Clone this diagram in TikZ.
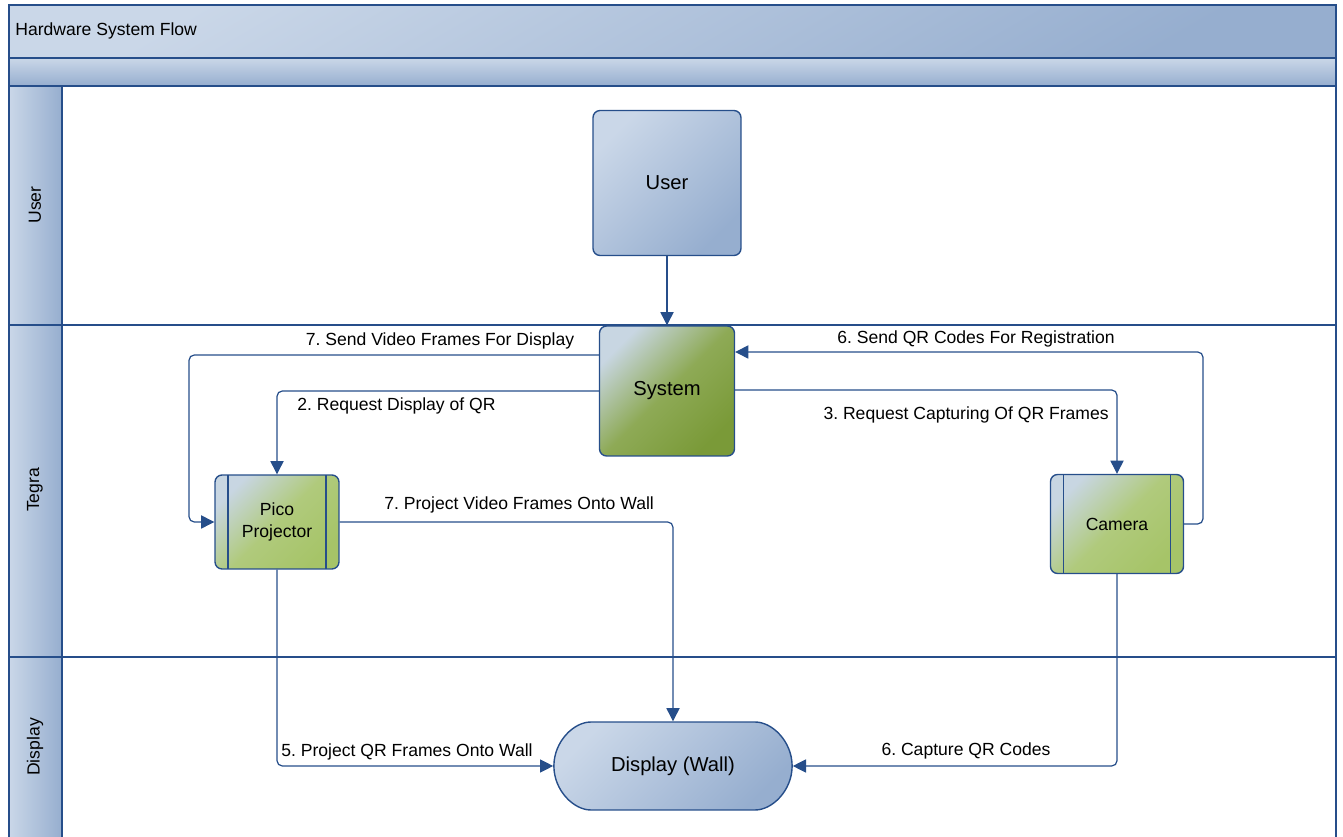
\documentclass[tikz,border=0pt]{standalone}
\usepackage{fontspec}
\setmainfont{Liberation Sans}
\usetikzlibrary{arrows.meta,shapes.misc}
\frenchspacing

\definecolor{flowblue}{RGB}{38,78,138}
\definecolor{hdrlight}{RGB}{202,215,232}
\definecolor{hdrdark}{RGB}{150,174,207}
\definecolor{grnlight}{RGB}{200,214,226}
\definecolor{grnmid}{RGB}{166,196,104}
\definecolor{grnmidb}{RGB}{176,202,124}
\definecolor{grnsys}{RGB}{142,170,86}
\definecolor{grndark}{RGB}{122,154,56}

\begin{document}
\begin{tikzpicture}[x=0.02cm, y=0.02cm,
                    lanehdr/.style = {draw = flowblue,
                                      line width = 1.1pt,
                                      left color = hdrlight,
                                      right color = hdrdark},
                    bluenode/.style = {shape = rectangle,
                                       rounded corners = 4pt,
                                       draw = flowblue,
                                       line width = 0.8pt,
                                       top color = hdrlight,
                                       bottom color = hdrdark,
                                       shading angle = 45,
                                       font = \fontsize{11.5}{13.5}\selectfont},
                    sysnode/.style = {bluenode,
                                      top color = grnlight,
                                      bottom color = grndark,
                                      middle color = grnsys,
                                      shading angle = 45},
                    procnode/.style = {bluenode,
                                       top color = grnlight,
                                       bottom color = grnmid,
                                       middle color = grnmidb,
                                       shading angle = 45,
                                       align = center,
                                       font = \fontsize{10}{12}\selectfont,
                                       path picture = {
                                         \draw[flowblue, line width = 0.8pt]
                                           ([xshift=0.26cm]path picture bounding box.north west) --
                                           ([xshift=0.26cm]path picture bounding box.south west);
                                         \draw[flowblue, line width = 0.8pt]
                                           ([xshift=-0.26cm]path picture bounding box.north east) --
                                           ([xshift=-0.26cm]path picture bounding box.south east);}},
                    flow/.style = {draw = flowblue,
                                   line width = 0.7pt,
                                   rounded corners = 3pt,
                                   -{Triangle[length=7.5pt,width=7.5pt]}},
                    lbl/.style = {inner sep = 0pt,
                                  font = \fontsize{10}{12}\selectfont}]
	\useasboundingbox (0,0) rectangle (1343,-837);

	% pool and lanes
	\path[lanehdr, top color = hdrlight, bottom color = hdrdark, shading angle = 30] (9,-5) rectangle (1336,-58);
	\path[lanehdr, top color = hdrlight, bottom color = hdrdark] (9,-58) rectangle (1336,-86);
	\path[lanehdr] (9,-86) rectangle (62,-325);
	\path[lanehdr] (9,-325) rectangle (62,-657);
	\path[lanehdr] (9,-657) rectangle (62,-850);
	\draw[flowblue, line width = 1.1pt] (9,-5) rectangle (1336,-58);
	\draw[flowblue, line width = 1.1pt] (9,-58) rectangle (1336,-86);
	\draw[flowblue, line width = 1.1pt] (9,-86) -- (9,-837) (62,-86) -- (62,-837) (1336,-86) -- (1336,-837);
	\draw[flowblue, line width = 1.1pt] (62,-325) -- (1336,-325) (62,-657) -- (1336,-657);
	\draw[flowblue, line width = 1.1pt] (9,-325) -- (62,-325) (9,-657) -- (62,-657);

	\node[lbl, anchor = west] (title) at (15,-31) {Hardware System Flow};
	\node[lbl, rotate = 90] (laneuser) at (35,-205) {User};
	\node[lbl, rotate = 90] (lanetegra) at (35,-490) {Tegra};
	\node[lbl, rotate = 90] (lanedisp) at (35,-747) {Display};

	% steps
	\node[bluenode, minimum width = 2.96cm, minimum height = 2.9cm] (user) at (667,-183) {User};
	\node[sysnode, minimum width = 2.7cm, minimum height = 2.6cm] (sys) at (667,-391) {System};
	\node[procnode, minimum width = 2.48cm, minimum height = 1.88cm] (pico) at (277,-522) {Pico\\Projector};
	\node[procnode, minimum width = 2.66cm, minimum height = 1.98cm] (cam) at (1117,-524) {Camera};
	\node[bluenode, shape = rounded rectangle, minimum width = 5.0cm, minimum height = 1.76cm] (disp) at (673,-766) {Display (Wall)};

	% connectors
	\draw[flow] (user) -- (sys);
	\draw[flow] (sys.west |- 0,-355) -- (189,-355) |- (pico.west);
	\draw[flow] (sys.west |- 0,-391) -| (pico.north);
	\draw[flow] (sys.east |- 0,-390) -| (cam.north);
	\draw[flow] (cam.east) -| (1203,-352) -- (sys.east |- 0,-352);
	\draw[flow] (pico.east) -| (disp.north);
	\draw[flow] (pico.south) |- (disp.west);
	\draw[flow] (cam.south) |- (disp.east);

	\node[lbl] (l1) at (440,-341) {7. Send Video Frames For Display};
	\node[lbl, anchor = west] (l2) at (297,-406) {2. Request Display of QR};
	\node[lbl, anchor = east] (l3) at (1109,-415) {3. Request Capturing Of QR Frames};
	\node[lbl] (l4) at (976,-339) {6. Send QR Codes For Registration};
	\node[lbl, anchor = west] (l5) at (384,-505) {7. Project Video Frames Onto Wall};
	\node[lbl, anchor = west] (l6) at (281,-752) {5. Project QR Frames Onto Wall};
	\node[lbl] (l7) at (966,-751) {6. Capture QR Codes};
\end{tikzpicture}
\end{document}
